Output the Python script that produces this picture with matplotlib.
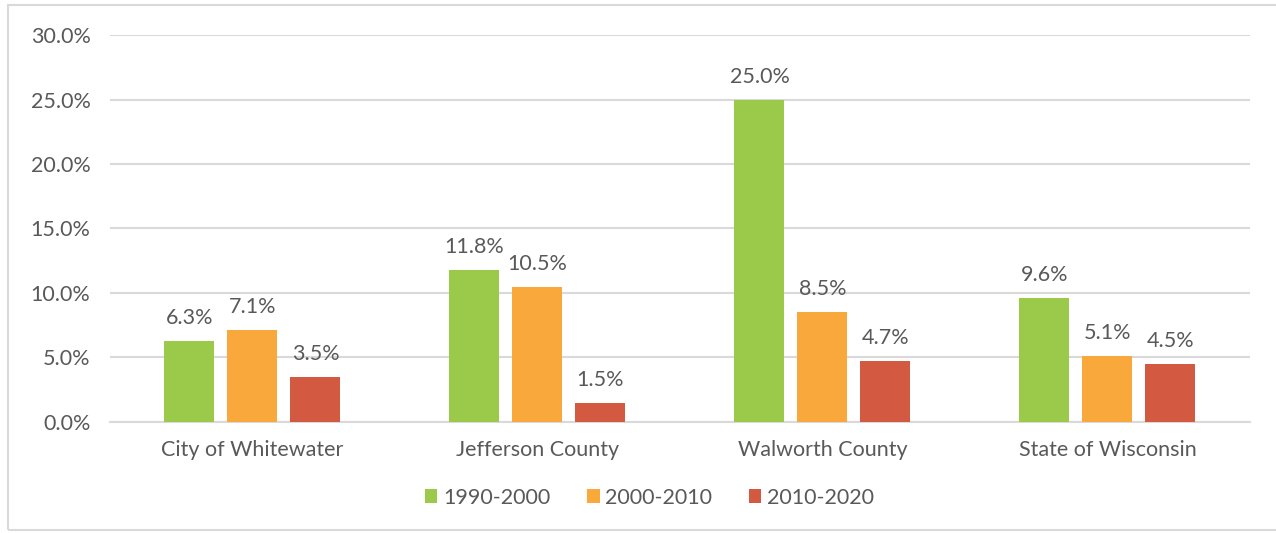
import matplotlib.pyplot as plt
import numpy as np
from matplotlib.patches import Rectangle

# datos del grafico
lugares = ["City of Whitewater", "Jefferson County", "Walworth County", "State of Wisconsin"]
periodos = ["1990-2000", "2000-2010", "2010-2020"]
v_1990 = [6.3, 11.8, 25.0, 9.6]
v_2000 = [7.1, 10.5, 8.5, 5.1]
v_2010 = [3.5, 1.5, 4.7, 4.5]
colores = ["#9bca4b", "#f9a83b", "#d35a41"]

gris = "#595959"
plt.rcParams["font.family"] = ["Lato", "DejaVu Sans"]

fig = plt.figure(figsize=(12.76, 5.33), dpi=100)
ax = fig.add_axes([0.0862, 0.2083, 0.8934, 0.726])

# marco exterior
fig.patches.append(Rectangle((8/1276, 3/533), 1.0, 1 - 8/533, transform=fig.transFigure,
                             fill=False, edgecolor="#d9d9d9", linewidth=1.5))

x = np.arange(len(lugares))
ancho = 50/285
paso = 63/285
series = [v_1990, v_2000, v_2010]
for i, vals in enumerate(series):
    barras = ax.bar(x + (i - 1)*paso, vals, width=ancho, color=colores[i], label=periodos[i], zorder=3)
    for b, v in zip(barras, vals):
        ax.text(b.get_x() + b.get_width()/2, v + 1.0, f"{v:.1f}%", ha="center", va="bottom",
                fontsize=15.5, color=gris)

ax.set_xlim(-0.5, 3.5)
ax.set_ylim(0, 30)
ax.set_yticks(np.arange(0, 31, 5))
ax.set_yticklabels([f"{t:.1f}%" for t in np.arange(0, 31, 5)])
ax.set_xticks(x)
ax.set_xticklabels(lugares)
ax.tick_params(axis="both", length=0, labelsize=15.5, labelcolor=gris)
ax.tick_params(axis="x", pad=13)
ax.tick_params(axis="y", pad=14)
ax.grid(axis="y", color="#d9d9d9", linewidth=1.5, zorder=0)
for s in ["top", "right", "left"]:
    ax.spines[s].set_visible(False)
ax.spines["bottom"].set_color("#d9d9d9")
ax.spines["bottom"].set_linewidth(1.5)

ax.legend(loc="center", bbox_to_anchor=(0.473, -0.196), ncol=3, frameon=False, fontsize=15.5,
          labelcolor=gris, handlelength=0.6, handleheight=0.6, handletextpad=0.25, columnspacing=1.7)

plt.savefig("out.png", dpi=100)
